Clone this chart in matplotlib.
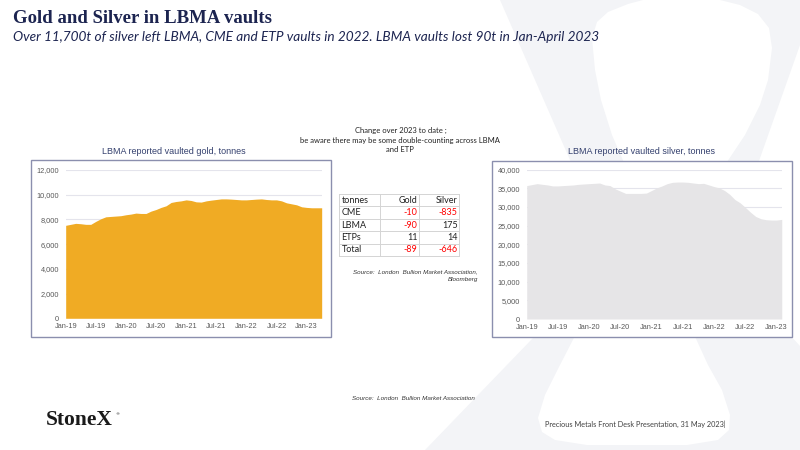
import matplotlib.pyplot as plt
import matplotlib.patches as patches
import numpy as np

# dados mensais, Jan-19 em diante
gold_tonnes = [7520, 7600, 7680, 7650, 7600, 7600, 7840, 8050, 8210, 8240, 8270, 8300,
               8375, 8430, 8510, 8480, 8480, 8670, 8800, 8970, 9100, 9370, 9450, 9500,
               9580, 9530, 9420, 9400, 9500, 9560, 9610, 9660, 9660, 9640, 9610, 9580,
               9580, 9610, 9640, 9660, 9610, 9580, 9580, 9500, 9340, 9260, 9180, 9020,
               8970, 8940, 8940, 8940]
silver_tonnes = [35700, 35960, 36220, 36040, 35870, 35610, 35610, 35700, 35780, 35870, 36040, 36130,
                 36220, 36300, 36390, 35870, 35700, 34830, 34220, 33610, 33610, 33610, 33610, 33700,
                 34390, 35090, 35610, 36220, 36570, 36650, 36650, 36570, 36390, 36220, 36300, 35870,
                 35430, 35090, 34390, 33350, 31960, 31090, 29870, 28570, 27430, 26830, 26570, 26480,
                 26480, 26650]
tick_labels = ['Jan-19', 'Jul-19', 'Jan-20', 'Jul-20', 'Jan-21', 'Jul-21', 'Jan-22', 'Jul-22', 'Jan-23']
gold_yticks = [0, 2000, 4000, 6000, 8000, 10000, 12000]
silver_yticks = [0, 5000, 10000, 15000, 20000, 25000, 30000, 35000, 40000]

tabela_header = ['tonnes', 'Gold', 'Silver']
tabela_nomes = ['CME', 'LBMA', 'ETPs', 'Total']
tabela_gold = [-10, -90, 11, -89]
tabela_silver = [-835, 175, 14, -646]

navy = '#1c2450'
cinza_x = '#f3f4f7'

fig = plt.figure(figsize=(8, 4.5), dpi=100)
bg = fig.add_axes([0, 0, 1, 1], zorder=0)
bg.set_xlim(0, 800)
bg.set_ylim(450, 0)
bg.axis('off')

# marca d'agua X
contorno_x = [(500, 0), (643, 0), (628, 4), (608, 12), (597, 22), (592, 38), (595, 70), (601, 100),
              (612, 135), (625, 165), (640, 200), (655, 235), (662, 255), (675, 240), (700, 200),
              (725, 165), (745, 135), (760, 105), (768, 80), (772, 48), (769, 28), (758, 14),
              (740, 5), (720, 0), (800, 0), (800, 45), (724, 260), (790, 335), (800, 346),
              (800, 450), (425, 450), (612, 256)]
bg.add_patch(patches.Polygon(contorno_x, closed=True, facecolor=cinza_x, edgecolor='none'))
vaso = [(578, 330), (560, 365), (545, 395), (538, 418), (542, 432), (555, 440), (587, 445),
        (687, 445), (718, 440), (729, 430), (730, 415), (722, 390), (708, 365), (692, 330)]
bg.add_patch(patches.Polygon(vaso, closed=True, facecolor='white', edgecolor='none'))

# caixas dos graficos
bg.add_patch(patches.Rectangle((31, 160), 300, 177, facecolor='white', edgecolor='#8b8fae', lw=1.0))
bg.add_patch(patches.Rectangle((492, 161), 300, 176, facecolor='white', edgecolor='#8b8fae', lw=1.0))

# textos
bg.text(13, 23, 'Gold and Silver in LBMA vaults', family='Liberation Serif', weight='bold',
        fontsize=13.5, color=navy, va='baseline')
bg.text(13, 41, 'Over 11,700t of silver left LBMA, CME and ETP vaults in 2022. LBMA vaults lost 90t in Jan-April 2023',
        family='Lato', style='italic', fontsize=9.8, color=navy, va='baseline')
bg.text(174, 152, 'LBMA reported vaulted gold, tonnes', family='Liberation Sans', fontsize=6.5,
        color='#34406e', ha='center', va='center')
bg.text(642, 151, 'LBMA reported vaulted silver, tonnes', family='Liberation Sans', fontsize=6.5,
        color='#34406e', ha='center', va='center')

bg.text(401, 130, 'Change over 2023 to date ;', family='Lato', fontsize=5.5, ha='center', va='center', color='#222222')
bg.text(400, 140, 'be aware there may be some double-counting across LBMA', family='Lato', fontsize=5.5,
        ha='center', va='center', color='#222222')
bg.text(400, 150, 'and ETP', family='Lato', fontsize=5.5, ha='center', va='center', color='#222222')

# tabela
x_cols = [339, 380, 419, 459]
y_rows = [194, 206.4, 218.8, 231.2, 243.6, 256]
for yy in y_rows:
    bg.plot([x_cols[0], x_cols[-1]], [yy, yy], color='#d4d4d4', lw=0.7)
for xx in x_cols:
    bg.plot([xx, xx], [y_rows[0], y_rows[-1]], color='#d4d4d4', lw=0.7)
linhas = [tabela_header] + [[n, g, s] for n, g, s in zip(tabela_nomes, tabela_gold, tabela_silver)]
for i, linha in enumerate(linhas):
    yc = (y_rows[i] + y_rows[i + 1]) / 2
    bg.text(341.5, yc, linha[0], family='Lato', fontsize=6.5, va='center', color='#222222')
    for j, xr in zip([1, 2], [417.5, 457.5]):
        v = linha[j]
        cor = '#222222'
        if not isinstance(v, str) and v < 0:
            cor = '#ff0000'
        bg.text(xr, yc, str(v), family='Lato', fontsize=6.5, va='center', ha='right', color=cor)

bg.text(478, 272, 'Source:  London  Bullion Market Association,', family='Liberation Sans', style='italic',
        fontsize=4.5, ha='right', va='center', color='#333333')
bg.text(478, 279.5, 'Bloomberg', family='Liberation Sans', style='italic',
        fontsize=4.5, ha='right', va='center', color='#333333')
bg.text(352, 398, 'Source:  London  Bullion Market Association', family='Liberation Sans', style='italic',
        fontsize=4.5, va='center', color='#333333')

bg.text(46, 425, 'StoneX', family='Liberation Serif', weight='bold', fontsize=15.5, va='baseline', color='#1a1a1a')
bg.text(115.5, 414, '\u00ae', family='DejaVu Sans', fontsize=3, va='center', color='#1a1a1a')
bg.text(545, 424, 'Precious Metals Front Desk Presentation, 31 May 2023|', family='Lato', fontsize=5.3,
        va='center', color='#404040')


def estilo(ax, yticks, n):
    ax.set_facecolor('none')
    for s in ax.spines.values():
        s.set_visible(False)
    ax.set_yticks(yticks)
    ax.set_yticklabels([f'{t:,}' for t in yticks])
    ax.set_xticks(range(0, 49, 6))
    ax.set_xticklabels(tick_labels)
    ax.set_xlim(0, n - 1)
    ax.set_ylim(0, yticks[-1])
    ax.grid(axis='y', color='#e4e4ec', lw=0.8)
    ax.set_axisbelow(True)
    ax.tick_params(axis='both', length=0, labelsize=5.3, labelcolor='#595959')
    ax.tick_params(axis='y', pad=4.6)
    ax.tick_params(axis='x', pad=3.5)
    for lb in ax.get_xticklabels() + ax.get_yticklabels():
        lb.set_family('Liberation Sans')


ax1 = fig.add_axes([0.0821, 0.2927, 0.32, 0.3296], zorder=1)
x1 = np.arange(len(gold_tonnes))
ax1.fill_between(x1, gold_tonnes, color='#f0ab24', lw=0)
estilo(ax1, gold_yticks, len(gold_tonnes))

ax2 = fig.add_axes([0.6584, 0.2911, 0.3188, 0.3322], zorder=1)
x2 = np.arange(len(silver_tonnes))
ax2.fill_between(x2, silver_tonnes, color='#e6e5e7', lw=0)
estilo(ax2, silver_yticks, len(silver_tonnes))

plt.savefig('out.png', dpi=100)
